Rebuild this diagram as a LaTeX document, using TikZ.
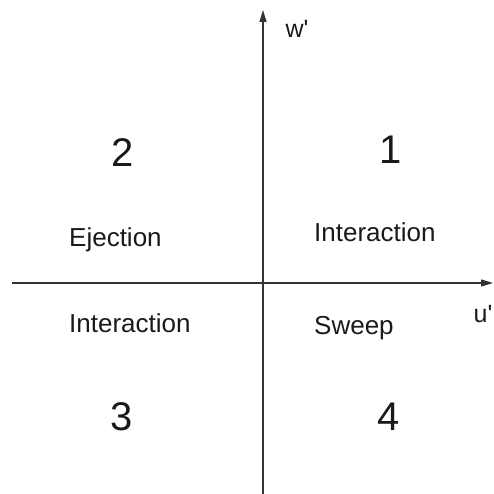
\documentclass[tikz,border=0pt]{standalone}
\usepackage{fontspec}
\setmainfont{Liberation Sans}
\usepackage{tikz}
\usetikzlibrary{arrows.meta}
\definecolor{qd-axis}{HTML}{333333}
\definecolor{qd-text}{HTML}{1A1A1A}

\begin{document}
\begin{tikzpicture}[
    x=1pt, y=-1pt,
    >={Triangle[length=12pt,width=7pt]}
  ]

  % Global Style Definitions
  \tikzset{
    axis/.style={draw=qd-axis, line width=1.2pt},
    quadnum/.style={text=qd-text, inner sep=0pt, anchor=base, font=\fontsize{40}{46}\selectfont},
    region/.style={text=qd-text, inner sep=0pt, anchor=base west, font=\fontsize{26}{30}\selectfont},
    axlabel/.style={text=qd-text, inner sep=0pt, font=\fontsize{25}{29}\selectfont}
  }

  \useasboundingbox (0,0) rectangle (493,494);

  % Axis end points
  \coordinate (origin) at (263,283);
  \coordinate (wtop)   at (263,10);
  \coordinate (wbot)   at (263,494);
  \coordinate (uleft)  at (12,283);
  \coordinate (uright) at (493,283);

  % Axes
  \draw[axis, ->] (wbot) -- (wtop);
  \draw[axis, ->] (uleft) -- (uright);

  % Axis labels
  \node (wlabel) [axlabel] at (297,29) {w\textquotesingle};
  \node (ulabel) [axlabel] at (483,314) {u\textquotesingle};

  % Quadrant numbers
  \node (q1) [quadnum] at (391,164) {1};
  \node (q2) [quadnum] at (123,167) {2};
  \node (q3) [quadnum] at (122,430) {3};
  \node (q4) [quadnum] at (389,430) {4};

  % Event names
  \node (ejection) [region] at (69,246) {Ejection};
  \node (interone) [region] at (314,241) {Interaction};
  \node (interthree) [region] at (69,332) {Interaction};
  \node (sweep)    [region] at (314,334) {Sweep};

\end{tikzpicture}
\end{document}
